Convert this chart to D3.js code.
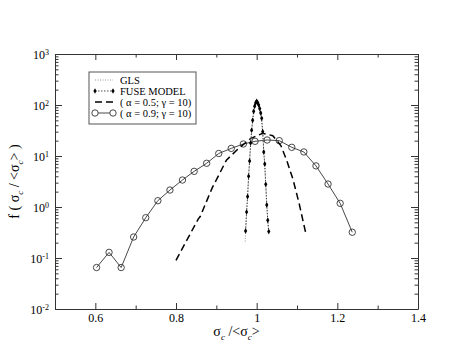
<!DOCTYPE html>
<html>
<head>
<meta charset="utf-8">
<script src="https://cdn.jsdelivr.net/npm/d3@7"></script>
<style>
  body { margin: 0; background: #fff; }
  svg { display: block; }
  svg text { font-family: "Liberation Serif", "DejaVu Serif", serif; fill: #000; }
  .axis path, .axis line { stroke: #333; }
</style>
</head>
<body>
<div id="wrapper"></div>
<script>
// series
const glsX = [0.9715, 0.975, 0.98, 0.985, 0.99, 0.995, 1.0, 1.005, 1.01, 1.015, 1.02, 1.025, 1.03];
const glsY = [0.21, 0.75, 3.8, 17, 48, 92, 115, 98, 68, 28, 6.5, 1.1, 0.3];

const fuseX = [0.9725, 0.975, 0.9775, 0.98, 0.9825, 0.985, 0.9875, 0.99, 0.9925, 0.995, 0.9975, 1.0,
  1.0025, 1.005, 1.0075, 1.01, 1.0125, 1.015, 1.0175, 1.02, 1.0225, 1.025, 1.0275, 1.03];
const fuseY = [0.34, 0.8, 1.6, 4.0, 8, 18, 32, 50, 75, 95, 110, 118,
  112, 100, 85, 70, 55, 30, 12, 7, 2.8, 1.1, 0.55, 0.33];

const a05X = [0.80, 0.855, 0.86, 0.89, 0.90, 0.925, 0.955, 0.985, 1.015, 1.04, 1.06, 1.075, 1.09, 1.105, 1.122];
const a05Y = [0.09, 0.58, 0.65, 2.4, 3.4, 8.3, 14, 22, 28, 25, 16, 8, 3.5, 1.2, 0.30];

const a09X = [0.603, 0.634, 0.664, 0.695, 0.725, 0.755, 0.785, 0.816, 0.845, 0.876, 0.906,
  0.937, 0.967, 0.996, 1.026, 1.056, 1.087, 1.117, 1.147, 1.177, 1.207, 1.237];
const a09Y = [0.065, 0.129, 0.065, 0.258, 0.617, 1.33, 2.15, 3.38, 5.0, 7.2, 11.2,
  14.1, 17.2, 19.4, 20.6, 20, 14.8, 12.0, 6.4, 2.82, 1.18, 0.32];

const xMajor = [0.6, 0.8, 1, 1.2, 1.4];
const xMinor = [0.7, 0.9, 1.1, 1.3];
const yMajor = [0.01, 0.1, 1, 10, 100, 1000];

const legendLabels = ["GLS", "FUSE MODEL", "( \u03B1 = 0.5;  \u03B3 = 10)", "( \u03B1 = 0.9;  \u03B3 = 10)"];

const zip = (xs, ys) => xs.map((x, i) => ({ x: x, y: ys[i] }));

const dimensions = {
  width: 471,
  height: 364,
  margin: { top: 54, right: 53, bottom: 55, left: 55 },
};
dimensions.boundedWidth = dimensions.width - dimensions.margin.left - dimensions.margin.right;
dimensions.boundedHeight = dimensions.height - dimensions.margin.top - dimensions.margin.bottom;

const svg = d3.select("#wrapper").append("svg")
  .attr("width", dimensions.width)
  .attr("height", dimensions.height)
  .attr("font-family", "Liberation Serif");

const bounds = svg.append("g")
  .attr("transform", `translate(${dimensions.margin.left},${dimensions.margin.top})`);

const xScale = d3.scaleLinear().domain([0.5, 1.4]).range([0, dimensions.boundedWidth]);
const yScale = d3.scaleLog().domain([0.01, 1000]).range([dimensions.boundedHeight, 0]);

// minor y ticks 2..9 per decade
const yMinor = [];
yMajor.slice(0, -1).forEach((d) => {
  for (let k = 2; k <= 9; k++) yMinor.push(d * k);
});

// axes (ticks point inward)
const bottom = bounds.append("g").attr("class", "axis")
  .attr("transform", `translate(0,${dimensions.boundedHeight})`)
  .call(d3.axisBottom(xScale).tickValues(xMajor).tickSize(-6).tickSizeOuter(0).tickPadding(4)
    .tickFormat(d3.format("")))
  .attr("font-family", null).attr("font-size", 12);
bounds.append("g").attr("class", "axis")
  .attr("transform", `translate(0,${dimensions.boundedHeight})`)
  .call(d3.axisBottom(xScale).tickValues(xMinor).tickSize(-3.5).tickFormat(""))
  .select(".domain").remove();

bounds.append("g").attr("class", "axis")
  .call(d3.axisTop(xScale).tickValues(xMajor).tickSize(-6).tickSizeOuter(0).tickFormat(""));
bounds.append("g").attr("class", "axis")
  .call(d3.axisTop(xScale).tickValues(xMinor).tickSize(-3.5).tickFormat(""))
  .select(".domain").remove();

const left = bounds.append("g").attr("class", "axis")
  .call(d3.axisLeft(yScale).tickValues(yMajor).tickSize(-7).tickSizeOuter(0).tickPadding(6)
    .tickFormat(""))
  .attr("font-family", null).attr("font-size", 12);
left.selectAll(".tick text").each(function (d) {
  const t = d3.select(this).attr("dy", "0.4em");
  t.text("10");
  t.append("tspan").attr("dy", "-0.55em").attr("font-size", 8).text(Math.round(Math.log10(d)));
});
bounds.append("g").attr("class", "axis")
  .call(d3.axisLeft(yScale).tickValues(yMinor).tickSize(-3.5).tickFormat(""))
  .select(".domain").remove();

bounds.append("g").attr("class", "axis")
  .attr("transform", `translate(${dimensions.boundedWidth},0)`)
  .call(d3.axisRight(yScale).tickValues(yMajor).tickSize(-7).tickSizeOuter(0).tickFormat(""));
bounds.append("g").attr("class", "axis")
  .attr("transform", `translate(${dimensions.boundedWidth},0)`)
  .call(d3.axisRight(yScale).tickValues(yMinor).tickSize(-3.5).tickFormat(""))
  .select(".domain").remove();

// axis labels
const xLabel = svg.append("text")
  .attr("x", dimensions.margin.left + dimensions.boundedWidth / 2)
  .attr("y", 336)
  .attr("text-anchor", "middle")
  .attr("font-size", 14);
xLabel.append("tspan").text("\u03C3");
xLabel.append("tspan").attr("dy", 4).attr("font-size", 9).attr("font-style", "italic").text("c");
xLabel.append("tspan").attr("dy", -4).text(" /<\u03C3");
xLabel.append("tspan").attr("dy", 4).attr("font-size", 9).attr("font-style", "italic").text("c");
xLabel.append("tspan").attr("dy", -4).text(">");

const yLabel = svg.append("text")
  .attr("transform", `translate(19,${dimensions.margin.top + dimensions.boundedHeight / 2}) rotate(-90)`)
  .attr("text-anchor", "middle")
  .attr("font-size", 14);
yLabel.append("tspan").text("f ( \u03C3");
yLabel.append("tspan").attr("dy", 4).attr("font-size", 9).attr("font-style", "italic").text("c");
yLabel.append("tspan").attr("dy", -4).text(" / <\u03C3");
yLabel.append("tspan").attr("dy", 4).attr("font-size", 9).attr("font-style", "italic").text("c");
yLabel.append("tspan").attr("dy", -4).text("> )");

// data
const lineGen = d3.line().x((d) => xScale(d.x)).y((d) => yScale(d.y));

const a09 = zip(a09X, a09Y);
bounds.append("path").datum(a09).attr("d", lineGen)
  .attr("fill", "none").attr("stroke", "#333").attr("stroke-width", 0.9);
bounds.selectAll(".a09").data(a09).join("circle").attr("class", "a09")
  .attr("cx", (d) => xScale(d.x)).attr("cy", (d) => yScale(d.y)).attr("r", 3.2)
  .attr("fill", "none").attr("stroke", "#333").attr("stroke-width", 0.9);

bounds.append("path").datum(zip(a05X, a05Y)).attr("d", lineGen)
  .attr("fill", "none").attr("stroke", "#000").attr("stroke-width", 1.5)
  .attr("stroke-dasharray", "7,4");

bounds.append("path").datum(zip(glsX, glsY)).attr("d", lineGen)
  .attr("fill", "none").attr("stroke", "#999").attr("stroke-width", 1)
  .attr("stroke-dasharray", "1,1.5");

const fuse = zip(fuseX, fuseY);
bounds.append("path").datum(fuse).attr("d", lineGen)
  .attr("fill", "none").attr("stroke", "#000").attr("stroke-width", 0.7)
  .attr("stroke-dasharray", "1.5,1.5");
const diamond = d3.symbol().type(d3.symbolDiamond).size(9);
bounds.selectAll(".fuse").data(fuse).join("path").attr("class", "fuse")
  .attr("d", diamond)
  .attr("transform", (d) => `translate(${xScale(d.x)},${yScale(d.y)})`)
  .attr("fill", "#000");

// legend
const legend = svg.append("g").attr("transform", "translate(89,72)");
legend.append("rect").attr("width", 107).attr("height", 52)
  .attr("fill", "#fff").attr("stroke", "#555").attr("stroke-width", 1);
const rowY = (i) => 8 + i * 11;
const lx0 = 6, lx1 = 24;
legend.selectAll(".ltext").data(legendLabels).join("text").attr("class", "ltext")
  .attr("x", 31).attr("y", (d, i) => rowY(i) + 3.5)
  .attr("font-size", 10.5).text((d) => d);
legend.append("line").attr("x1", lx0).attr("x2", lx1).attr("y1", rowY(0)).attr("y2", rowY(0))
  .attr("stroke", "#999").attr("stroke-dasharray", "1,1.5");
legend.append("line").attr("x1", lx0).attr("x2", lx1).attr("y1", rowY(1)).attr("y2", rowY(1))
  .attr("stroke", "#000").attr("stroke-width", 0.7).attr("stroke-dasharray", "1.5,1.5");
[lx0, lx1].forEach((x) => {
  legend.append("path").attr("d", diamond).attr("transform", `translate(${x},${rowY(1)})`);
});
legend.append("line").attr("x1", lx0).attr("x2", lx1).attr("y1", rowY(2)).attr("y2", rowY(2))
  .attr("stroke", "#000").attr("stroke-width", 1.5).attr("stroke-dasharray", "7,4");
legend.append("line").attr("x1", lx0).attr("x2", lx1).attr("y1", rowY(3)).attr("y2", rowY(3))
  .attr("stroke", "#333").attr("stroke-width", 0.9);
[lx0, lx1].forEach((x) => {
  legend.append("circle").attr("cx", x).attr("cy", rowY(3)).attr("r", 3.2)
    .attr("fill", "#fff").attr("stroke", "#333").attr("stroke-width", 0.9);
});
</script>
</body>
</html>
